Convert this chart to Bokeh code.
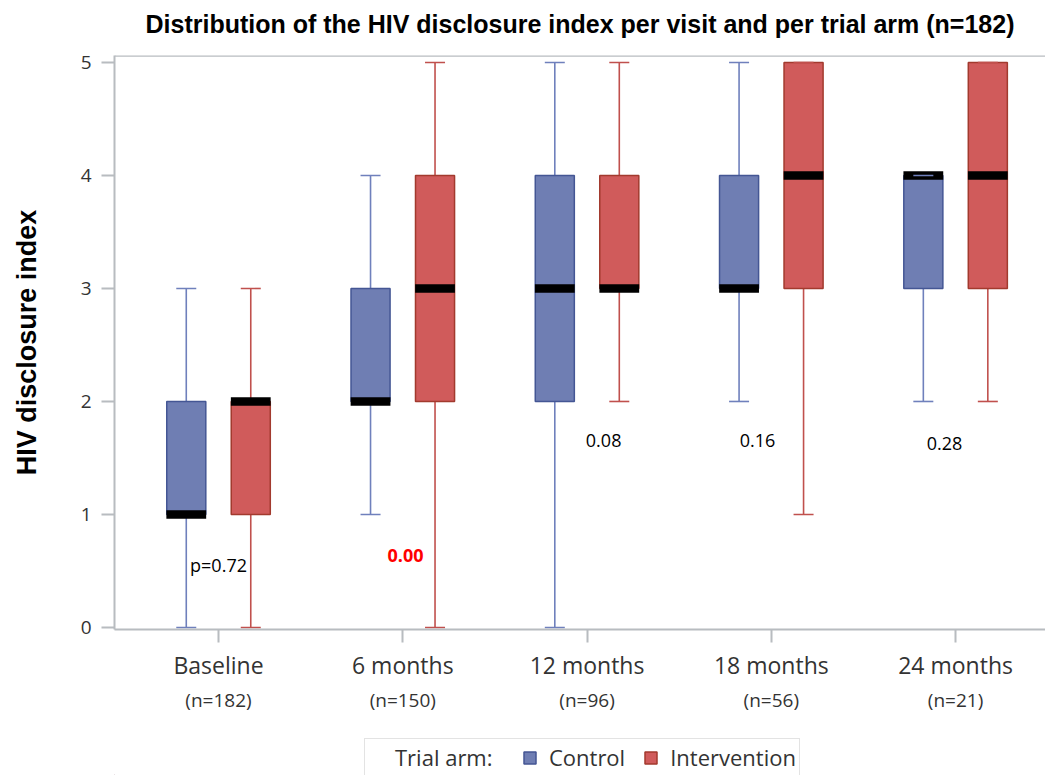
from bokeh.plotting import figure
from bokeh.layouts import column
from bokeh.models import ColumnDataSource, Legend, LegendItem, LinearAxis, FixedTicker, Span, Label
from bokeh.embed import file_html
from bokeh.resources import INLINE

# ---------------- data ----------------
visits = ["Baseline", "6 months", "12 months", "18 months", "24 months"]
n_labels = ["(n=182)", "(n=150)", "(n=96)", "(n=56)", "(n=21)"]

ctrl_min = [0, 1, 0, 2, 2]
ctrl_q1 = [1, 2, 2, 3, 3]
ctrl_med = [1, 2, 3, 3, 4]
ctrl_q3 = [2, 3, 4, 4, 4]
ctrl_max = [3, 4, 5, 5, 4]

int_min = [0, 0, 2, 1, 2]
int_q1 = [1, 2, 3, 3, 3]
int_med = [2, 3, 3, 4, 4]
int_q3 = [2, 4, 4, 5, 5]
int_max = [3, 5, 5, 5, 5]

p_texts = ["p=0.72", "0.00", "0.08", "0.16", "0.28"]
p_red = [False, True, False, False, False]

# annotation placement (data units)
p_x = [0.0, 1.015, 2.09, 2.925, 3.94]
p_y = [0.55, 0.64, 1.655, 1.655, 1.63]

TITLE = "Distribution of the HIV disclosure index per visit and per trial arm (n=182)"

# ---------------- sizes ----------------
W = 1045
H_T, H_MAIN, H_LEG = 42, 677, 56
Y0, Y1 = -0.018, 5.062
AX = "#B8BCC0"
TXT = "#333333"
FONT = "Open Sans"

# ---------------- title strip ----------------
tf = figure(width=W, height=H_T, output_backend="svg", toolbar_location=None,
            x_range=(0, 1), y_range=(0, 1), x_axis_location=None, y_axis_location=None,
            min_border_left=114, min_border_right=0, min_border_top=40, min_border_bottom=0)
tf.outline_line_color = None
tf.grid.visible = False
tf.background_fill_color = "white"
tf.border_fill_color = "white"
tf.title.text = TITLE
tf.title.align = "center"
tf.title.text_font = "Liberation Sans"
tf.title.text_font_size = "25px"
tf.title.text_font_style = "bold"
tf.title.text_color = "#000000"
tf.title.standoff = 6

# ---------------- main figure ----------------
p = figure(width=W, height=H_MAIN, output_backend="svg", toolbar_location=None,
           x_range=(-0.5645, 4.488), y_range=(Y0, Y1),
           min_border_left=114, min_border_right=0, min_border_top=55 - H_T,
           min_border_bottom=H_MAIN - (629 - H_T))
p.outline_line_color = None
p.grid.visible = False
p.background_fill_color = "white"
p.border_fill_color = "white"

# x axis (visit labels)
xa = p.below[0]
xa.ticker = FixedTicker(ticks=list(range(len(visits))))
xa.major_label_overrides = {i: v for i, v in enumerate(visits)}
xa.axis_line_color = AX
xa.axis_line_width = 2
xa.major_tick_line_color = AX
xa.major_tick_line_width = 2
xa.major_tick_out = 13
xa.major_tick_in = 0
xa.minor_tick_line_color = None
xa.major_label_standoff = 6
xa.major_label_text_font = FONT
xa.major_label_text_font_size = "23px"
xa.major_label_text_color = TXT

# second x axis (n labels)
xa2 = LinearAxis(ticker=FixedTicker(ticks=list(range(len(visits)))),
                 major_label_overrides={i: v for i, v in enumerate(n_labels)})
xa2.axis_line_color = None
xa2.major_tick_line_color = None
xa2.major_tick_out = 0
xa2.major_tick_in = 0
xa2.minor_tick_line_color = None
xa2.major_label_standoff = 3
xa2.major_label_text_font = FONT
xa2.major_label_text_font_size = "19px"
xa2.major_label_text_color = TXT
p.add_layout(xa2, "below")

# y axis
ya = p.yaxis[0]
ya.ticker = FixedTicker(ticks=[0, 1, 2, 3, 4, 5])
ya.axis_line_color = AX
ya.axis_line_width = 2
ya.major_tick_line_color = AX
ya.major_tick_line_width = 2
ya.major_tick_out = 13
ya.major_tick_in = 0
ya.minor_tick_line_color = None
ya.major_label_standoff = 10
ya.major_label_text_font = FONT
ya.major_label_text_font_size = "19px"
ya.major_label_text_color = TXT
ya.axis_label = "HIV disclosure index"
ya.axis_label_text_font = "Liberation Sans"
ya.axis_label_text_font_size = "27px"
ya.axis_label_text_font_style = "bold"
ya.axis_label_text_color = "#000000"
ya.axis_label_standoff = 36

# top frame line
p.add_layout(Span(location=Y1, dimension="width", line_color=AX, line_width=2.5))

# ---------------- boxes ----------------
arms = [
    ("Control", -0.175, ctrl_min, ctrl_q1, ctrl_med, ctrl_q3, ctrl_max, "#6F7EB3", "#445694", "#6F80BC"),
    ("Intervention", 0.175, int_min, int_q1, int_med, int_q3, int_max, "#D05B5B", "#A23A2E", "#C0504D"),
]
BOX_W = 0.212
for name, off, mn, q1, md, q3, mx, fill, line, wcol in arms:
    xs = [i + off for i in range(len(visits))]
    src = ColumnDataSource(dict(x=xs, mn=mn, q1=q1, md=md, q3=q3, mx=mx))
    p.segment(x0="x", y0="mn", x1="x", y1="q1", source=src, line_color=wcol, line_width=1.6)
    p.segment(x0="x", y0="q3", x1="x", y1="mx", source=src, line_color=wcol, line_width=1.6)
    p.vbar(x="x", bottom="q1", top="q3", width=BOX_W, source=src,
           fill_color=fill, line_color=line, line_width=1.5)
    p.rect(x="x", y="md", width=BOX_W + 0.004, height=0.075, source=src,
           fill_color="black", line_color=None)
    p.scatter(x="x", y="mn", marker="dash", size=20, source=src, line_color=wcol, line_width=1.6)
    p.scatter(x="x", y="mx", marker="dash", size=20, source=src, line_color=wcol, line_width=1.6)

# ---------------- p-values ----------------
for t, x, y, red in zip(p_texts, p_x, p_y, p_red):
    p.add_layout(Label(x=x, y=y, text=t, text_align="center", text_baseline="middle",
                       text_font=FONT, text_font_size="18px",
                       text_color="#FF0000" if red else "#000000",
                       text_font_style="bold" if red else "normal"))

# ---------------- legend strip ----------------
lf = figure(width=W, height=H_LEG, output_backend="svg", toolbar_location=None,
            x_range=(0, 1), y_range=(0, 1), x_axis_location=None, y_axis_location=None,
            min_border_left=114, min_border_right=0, min_border_top=0, min_border_bottom=0)
lf.outline_line_color = None
lf.grid.visible = False
lf.background_fill_color = "white"
lf.border_fill_color = "white"

# legend proxies kept outside the visible range of the strip
dummy = lf.scatter(x=[-5], y=[-5], marker="square", fill_alpha=0, line_alpha=0)
items = [LegendItem(label="Trial arm:\u00a0\u00a0", renderers=[dummy])]
for name, off, mn, q1, md, q3, mx, fill, line, wcol in arms:
    r = lf.vbar(x=[-5], bottom=[-6], top=[-5], width=0.1,
                fill_color=fill, line_color=line, line_width=1.5)
    items.append(LegendItem(label=name, renderers=[r]))
legend = Legend(items=items, orientation="horizontal", location=(250, -1))
legend.label_text_font = FONT
legend.label_text_font_size = "22px"
legend.label_text_color = TXT
legend.glyph_width = 15
legend.glyph_height = 15
legend.label_standoff = 12
legend.spacing = 18
legend.padding = 3
legend.margin = 0
legend.border_line_color = "#C8C8C8"
legend.border_line_width = 1.5
legend.background_fill_color = "white"
lf.add_layout(legend, "center")

open("out.html", "w").write(file_html(column(tf, p, lf, spacing=0), INLINE))
